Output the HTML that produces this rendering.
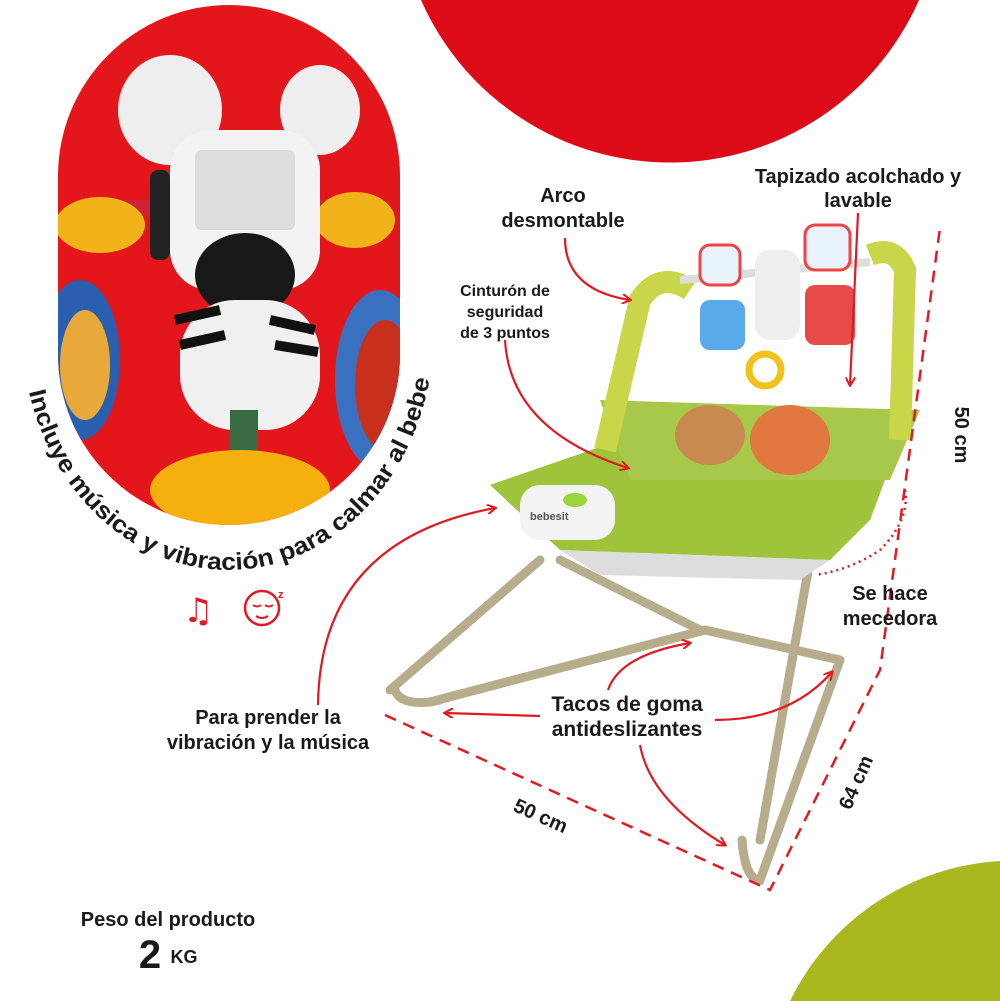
<!DOCTYPE html>
<html><head><meta charset="utf-8"><style>
*{margin:0;padding:0;}
html,body{width:1000px;height:1001px;background:#fff;overflow:hidden;}
body{position:relative;font-family:"Liberation Sans",sans-serif;}
svg{position:absolute;left:0;top:0;display:block;overflow:hidden;}
</style></head><body>
<svg width="1000" height="1001" viewBox="0 0 1000 1001">
<defs>
<marker id="ah" markerWidth="10" markerHeight="10" refX="8" refY="5" orient="auto" markerUnits="userSpaceOnUse"><path d="M0,0 L9,5 L0,10" fill="none" stroke="#e01a22" stroke-width="2"/></marker>
<clipPath id="ov"><rect x="58" y="5" width="342" height="520" rx="171" ry="171"/></clipPath>
</defs>
<path d="M421,0 A272,272 0 0,0 919,0 Z" fill="#dc0b17"/>
<path d="M790,1001 A250,250 0 0,1 1000,861 L1000,1001 Z" fill="#aab820"/>
<g clip-path="url(#ov)">
<rect x="58" y="5" width="342" height="520" fill="#e3161c"/>
<ellipse cx="80" cy="360" rx="40" ry="80" fill="#2a5fb0"/><ellipse cx="85" cy="365" rx="25" ry="55" fill="#e8a93a"/>
<ellipse cx="380" cy="380" rx="45" ry="90" fill="#3a70c0"/><ellipse cx="385" cy="385" rx="30" ry="65" fill="#c8301e"/>
<rect x="80" y="200" width="310" height="16" fill="#c23" />
<ellipse cx="100" cy="225" rx="45" ry="28" fill="#f2b21a"/>
<ellipse cx="355" cy="220" rx="40" ry="28" fill="#f2b21a"/>
<rect x="150" y="170" width="20" height="90" rx="8" fill="#222"/>
<ellipse cx="170" cy="110" rx="52" ry="55" fill="#eee"/>
<ellipse cx="320" cy="110" rx="40" ry="45" fill="#eee"/>
<rect x="170" y="130" width="150" height="160" rx="40" fill="#f3f3f3"/>
<rect x="195" y="150" width="100" height="80" rx="6" fill="#ddd"/>
<ellipse cx="245" cy="275" rx="50" ry="42" fill="#181818"/>
<rect x="180" y="300" width="140" height="130" rx="55" fill="#f0f0f0"/>
<path d="M175 320 L220 310 M180 345 L225 335 M270 320 L315 330 M275 345 L318 352" stroke="#111" stroke-width="10"/>
<rect x="230" y="410" width="28" height="50" fill="#3a6a40"/>
<ellipse cx="240" cy="490" rx="90" ry="40" fill="#f5b010"/>
</g>
<path id="cp" d="M22,330 A206,240 0 0,0 434,330" fill="none"/>
<text font-family="Liberation Sans, sans-serif" font-weight="bold" font-size="24" fill="#1a1a1a"><textPath href="#cp" startOffset="62" textLength="590" lengthAdjust="spacingAndGlyphs">Incluye música y vibración para calmar al bebe</textPath></text>
<text x="183" y="622" font-size="34" fill="#e01a22" font-family="DejaVu Sans, sans-serif">♫</text>
<circle cx="262" cy="608" r="17" fill="none" stroke="#e01a22" stroke-width="2.5"/>
<path d="M253 605 q4 3 8 0 M265 605 q4 3 8 0 M256 616 q6 4 12 0" stroke="#e01a22" stroke-width="2" fill="none"/>
<text x="278" y="598" font-size="11" font-weight="bold" fill="#e01a22">z</text>
<g stroke="#b7ad8c" stroke-width="9" fill="none" stroke-linecap="round">
<path d="M390 690 L540 560"/>
<path d="M395 690 Q400 705 430 702 L440 700"/>
<path d="M430 702 L705 630 L840 660"/>
<path d="M700 630 L560 560"/>
<path d="M840 660 L760 880 Q745 880 742 840"/>
<path d="M810 560 L760 840"/>
</g>
<path d="M490 485 L620 440 L860 470 L900 440 L870 520 L830 560 L560 550 Z" fill="#9fc33a"/>
<path d="M560 550 L830 560 L800 580 L600 575 Z" fill="#ddd"/>
<path d="M600 400 L920 410 L890 480 L630 480 Z" fill="#a8c84a"/>
<ellipse cx="710" cy="435" rx="35" ry="30" fill="#c98a50"/>
<ellipse cx="790" cy="440" rx="40" ry="35" fill="#e07840"/>
<rect x="520" y="485" width="95" height="55" rx="20" fill="#f3f3f3"/>
<ellipse cx="575" cy="500" rx="12" ry="7" fill="#9cd23a"/>
<text x="530" y="520" font-size="11" font-weight="bold" fill="#555">bebesit</text>
<path d="M605 450 L640 300 Q660 270 690 290" stroke="#c9d64a" stroke-width="22" fill="none"/>
<path d="M900 440 L905 270 Q895 245 870 255" stroke="#c9d64a" stroke-width="22" fill="none"/>
<path d="M680 280 L870 262" stroke="#ddd" stroke-width="8"/>
<rect x="755" y="250" width="45" height="90" rx="15" fill="#eee"/>
<rect x="700" y="300" width="45" height="50" rx="10" fill="#5aa9e8"/>
<rect x="805" y="285" width="50" height="60" rx="10" fill="#e84a4a"/>
<rect x="700" y="245" width="40" height="40" rx="10" fill="#e9f3fb" stroke="#e44" stroke-width="3"/>
<rect x="805" y="225" width="45" height="45" rx="10" fill="#e9f3fb" stroke="#e44" stroke-width="3"/>
<circle cx="765" cy="370" r="16" fill="none" stroke="#f3c21a" stroke-width="7"/>
<g stroke="#e01a22" stroke-width="2.5" stroke-dasharray="12,8" fill="none">
<path d="M385 715 L770 890 L880 670 L940 228"/>
<path d="M905 490 Q910 520 880 550 Q850 570 815 575" stroke-dasharray="2,4"/>
</g>
<g stroke="#e01a22" stroke-width="2.2" fill="none">
<path d="M565 238 Q565 290 630 300" marker-end="url(#ah)"/>
<path d="M858 213 L850 385" marker-end="url(#ah)"/>
<path d="M505 340 Q510 430 628 468" marker-end="url(#ah)"/>
<path d="M318 705 Q320 540 495 508" marker-end="url(#ah)"/>
<path d="M608 690 Q620 655 690 643" marker-end="url(#ah)"/>
<path d="M540 716 L445 713" marker-end="url(#ah)"/>
<path d="M715 720 Q790 720 832 672" marker-end="url(#ah)"/>
<path d="M640 745 Q650 800 725 845" marker-end="url(#ah)"/>
</g>
<g font-family="Liberation Sans, sans-serif" font-weight="bold" fill="#1a1a1a" text-anchor="middle">
<text x="563" y="202" font-size="20">Arco</text>
<text x="563" y="227" font-size="20">desmontable</text>
<text x="858" y="183" font-size="20">Tapizado acolchado y</text>
<text x="858" y="207" font-size="20">lavable</text>
<text x="505" y="296" font-size="16">Cinturón de</text>
<text x="505" y="317" font-size="16">seguridad</text>
<text x="505" y="338" font-size="16">de 3 puntos</text>
<text x="890" y="600" font-size="20">Se hace</text>
<text x="890" y="625" font-size="20">mecedora</text>
<text x="627" y="711" font-size="21">Tacos de goma</text>
<text x="627" y="736" font-size="21">antideslizantes</text>
<text x="268" y="724" font-size="20">Para prender la</text>
<text x="268" y="749" font-size="20">vibración y la música</text>
<text x="0" y="0" font-size="20" transform="translate(538,822) rotate(24)">50 cm</text>
<text x="0" y="0" font-size="20" transform="translate(862,785) rotate(-66)">64 cm</text>
<text x="0" y="0" font-size="20" transform="translate(955,435) rotate(90)">50 cm</text>
<text x="168" y="926" font-size="20">Peso del producto</text>
<text x="150" y="968" font-size="40" font-weight="900">2</text>
<text x="184" y="963" font-size="18">KG</text>
</g>
</svg>
</body></html>
